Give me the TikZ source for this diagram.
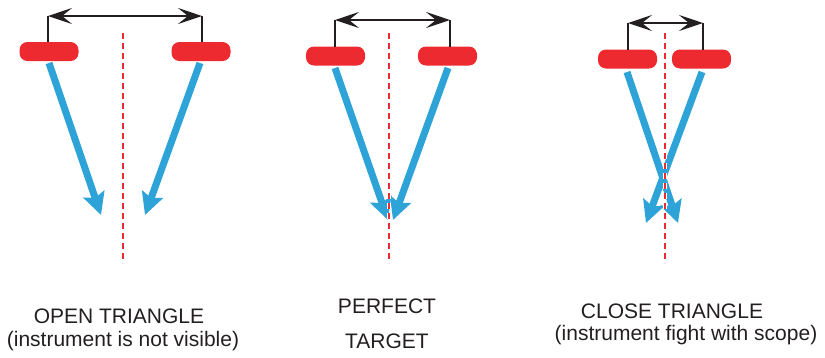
\documentclass[tikz,border=0pt]{standalone}
\usepackage{fontspec}
\setmainfont{Liberation Sans}
\usetikzlibrary{arrows.meta}
\definecolor{pillred}{HTML}{EC2A2F}
\definecolor{rayblue}{HTML}{2EA3D8}
\definecolor{ink}{HTML}{231F20}
\begin{document}
\begin{tikzpicture}[x=1pt,y=-1pt,
  pill/.style={fill=pillred,draw=none,rounded corners=8pt,minimum width=59pt,minimum height=19pt,inner sep=0pt},
  ray/.style={draw=rayblue,line width=7pt,-{Stealth[length=22pt,width=22pt,inset=4pt]}},
  span/.style={draw=ink,line width=1.5pt,{Stealth[length=24pt,width=16pt,inset=10pt]}-{Stealth[length=24pt,width=16pt,inset=10pt]}},
  tick/.style={draw=ink,line width=1.5pt},
  axishalo/.style={draw=white,line width=3.5pt,dash pattern=on 6pt off 4pt},
  axis/.style={draw=pillred,line width=2pt,dash pattern=on 6pt off 4pt},
  caption/.style={text=ink,font=\fontsize{21}{25}\selectfont,inner sep=0pt,anchor=base}]
\useasboundingbox (0,0) rectangle (825,357);

% ---------- open triangle ----------
\node[pill] (a1) at (49,51.5) {};
\node[pill] (a2) at (201,51.5) {};
\coordinate (a1t) at (48,16);
\coordinate (a2t) at (202,16);
\draw[tick] (a1t) -- (48,42);
\draw[tick] (a2t) -- (202,42);
\draw[span] (a1t) -- (a2t);
\coordinate (a1s) at (49,63);
\coordinate (a2s) at (200,63);
\coordinate (a1e) at (101,215);
\coordinate (a2e) at (145,215);
\draw[ray] (a1s) -- (a1e);
\draw[ray] (a2s) -- (a2e);
\coordinate (ac1) at (123,33);
\coordinate (ac2) at (123,263);
\draw[axishalo] (ac1) -- (ac2);
\draw[axis] (ac1) -- (ac2);

% ---------- perfect target ----------
\node[pill] (b1) at (335.5,56) {};
\node[pill] (b2) at (447.5,56) {};
\coordinate (b1t) at (335,20);
\coordinate (b2t) at (450,20);
\draw[tick] (b1t) -- (335,47);
\draw[tick] (b2t) -- (450,47);
\draw[span] (b1t) -- (b2t);
\coordinate (b1s) at (335,68);
\coordinate (b2s) at (448,68);
\coordinate (b1e) at (388,220);
\coordinate (b2e) at (393,220);
\draw[ray] (b1s) -- (b1e);
\draw[ray] (b2s) -- (b2e);
\coordinate (bc1) at (389,33);
\coordinate (bc2) at (389,263);
\draw[axishalo] (bc1) -- (bc2);
\draw[axis] (bc1) -- (bc2);

% ---------- close triangle ----------
\node[pill] (c1) at (627.5,59) {};
\node[pill] (c2) at (701.5,59) {};
\coordinate (c1t) at (628,23);
\coordinate (c2t) at (703,23);
\draw[tick] (c1t) -- (628,50);
\draw[tick] (c2t) -- (703,50);
\draw[span] (c1t) -- (c2t);
\coordinate (c1s) at (627,72);
\coordinate (c2s) at (702,72);
\coordinate (c1e) at (678,223);
\coordinate (c2e) at (646,223);
\draw[ray] (c1s) -- (c1e);
\draw[ray] (c2s) -- (c2e);
\coordinate (cc1) at (665,33);
\coordinate (cc2) at (665,263);
\draw[axishalo] (cc1) -- (cc2);
\draw[axis] (cc1) -- (cc2);

% ---------- captions ----------
\node[caption] (la) at (119,323) {OPEN TRIANGLE};
\node[caption] (lb) at (123,346) {(instrument is not visible)};
\node[caption] (lc) at (387,313) {PERFECT};
\node[caption] (ld) at (387,348) {TARGET};
\node[caption] (le) at (672,318) {CLOSE TRIANGLE};
\node[caption] (lf) at (686,340) {(instrument fight with scope)};
\end{tikzpicture}
\end{document}
